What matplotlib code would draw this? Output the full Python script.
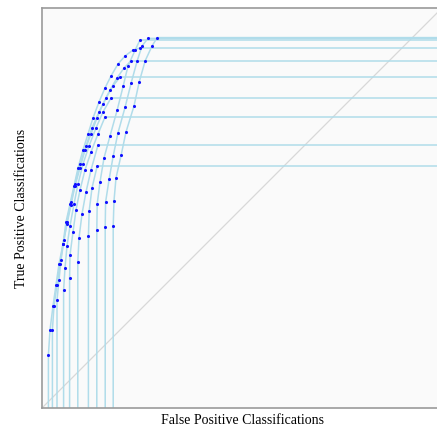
#!/usr/bin/env python
# -*- coding: utf-8 -*-

import matplotlib
matplotlib.use("Agg")
from matplotlib import pyplot as plt

# each curve: false positive rate / true positive rate of its points
fpr_curves = [
    [0.016, 0.020, 0.0275, 0.035, 0.0425, 0.0525, 0.060, 0.070, 0.080, 0.090,
     0.1025, 0.115, 0.1275, 0.1425, 0.1575, 0.1725, 0.190, 0.2075, 0.2275, 0.245],
    [0.026, 0.030, 0.0375, 0.045, 0.0525, 0.0625, 0.0725, 0.0825, 0.095, 0.1075,
     0.1225, 0.1375, 0.1525, 0.170, 0.1875, 0.205, 0.2225],
    [0.0375, 0.0425, 0.0475, 0.055, 0.0625, 0.0725, 0.0825, 0.095, 0.110, 0.125,
     0.1425, 0.160, 0.1775, 0.195],
    [0.054, 0.0575, 0.0625, 0.070, 0.080, 0.090, 0.1025, 0.1175, 0.135, 0.1525, 0.1725],
    [0.069, 0.070, 0.0775, 0.085, 0.095, 0.1075, 0.1225, 0.140, 0.1575],
    [0.0895, 0.0925, 0.100, 0.110, 0.1225, 0.140],
    [0.116, 0.118, 0.125, 0.138],
    [0.137, 0.138, 0.145, 0.155, 0.170, 0.188, 0.203, 0.215, 0.233, 0.245],
    [0.158, 0.159, 0.168, 0.178, 0.190, 0.208, 0.223, 0.238, 0.250, 0.265],
    [0.178, 0.180, 0.185, 0.198, 0.210, 0.230, 0.243, 0.258, 0.275, 0.288],
]
tpr_curves = [
    [0.1325, 0.195, 0.255, 0.3075, 0.360, 0.410, 0.465, 0.510, 0.555, 0.600,
     0.645, 0.685, 0.725, 0.765, 0.800, 0.830, 0.860, 0.880, 0.895, 0.900],
    [0.195, 0.255, 0.3075, 0.360, 0.410, 0.460, 0.5075, 0.555, 0.600, 0.645,
     0.685, 0.725, 0.760, 0.795, 0.825, 0.850, 0.8675],
    [0.270, 0.320, 0.370, 0.420, 0.465, 0.515, 0.560, 0.610, 0.655, 0.700,
     0.740, 0.775, 0.805, 0.8275],
    [0.295, 0.350, 0.405, 0.455, 0.510, 0.560, 0.610, 0.655, 0.700, 0.740, 0.775],
    [0.325, 0.3825, 0.440, 0.495, 0.545, 0.595, 0.640, 0.685, 0.7275],
    [0.365, 0.425, 0.485, 0.540, 0.595, 0.6575],
    [0.430, 0.493, 0.550, 0.605],
    [0.445, 0.510, 0.565, 0.625, 0.680, 0.745, 0.805, 0.855, 0.895, 0.920],
    [0.453, 0.515, 0.573, 0.630, 0.688, 0.753, 0.813, 0.868, 0.905, 0.924],
    [0.455, 0.518, 0.575, 0.633, 0.690, 0.755, 0.815, 0.868, 0.905, 0.926],
]


def plot_roc(prefix):
    fig = plt.figure(figsize=[4.37, 4.28], dpi=100)
    ax = fig.add_axes([42 / 437, 20 / 428, 400 / 437, 400 / 428])
    ax.set_facecolor('#fafafa')
    for side in ['left', 'top', 'bottom']:
        ax.spines[side].set_color('#9a9a9a')
        ax.spines[side].set_linewidth(1.2)
    ax.spines['right'].set_visible(False)
    ax.set_xticks([])
    ax.set_yticks([])

    # chance diagonal
    ax.plot([0, 1], [0, 1], color='#d8d8d8', linewidth=0.9, zorder=1)

    for fpr, tpr in zip(fpr_curves, tpr_curves):
        xs = [fpr[0]] + fpr + [1.0]
        ys = [0.0] + tpr + [tpr[-1]]
        ax.plot(xs, ys, color='#b0dcea', linewidth=1.1, zorder=2)
        ax.scatter(fpr, tpr, s=5, color='#1010ff', linewidths=0, zorder=3)

    ax.set_xlim(0, 1)
    ax.set_ylim(0, 1)

    font1 = {'family': 'Liberation Serif', 'size': 10}
    ax.set_xlabel('False Positive Classifications', font1, labelpad=4)
    ax.set_ylabel('True Positive Classifications', font1, labelpad=10)

    plt.savefig('%s.png' % prefix, dpi=100)


def main():
    plot_roc('out')


if __name__ == "__main__":
    main()
